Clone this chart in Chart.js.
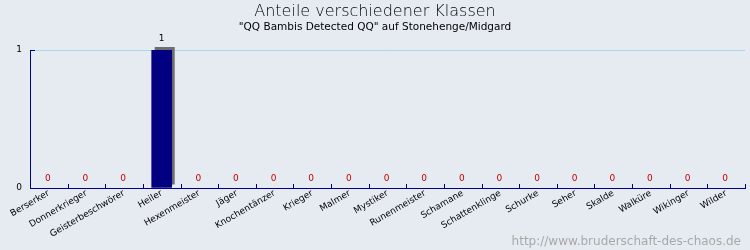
<!DOCTYPE html>
<html>
<head>
<meta charset="utf-8">
<script src="https://cdn.jsdelivr.net/npm/chart.js@4"></script>
<style>
  html, body { margin: 0; padding: 0; background: #e6ebf2; }
  #wrap { width: 750px; height: 250px; }
</style>
</head>
<body>
<div id="wrap"><canvas id="klassenChart" width="750" height="250"></canvas></div>
<script>
// Daten
const klassen = ["Berserker", "Donnerkrieger", "Geisterbeschwörer", "Heiler", "Hexenmeister", "Jäger",
  "Knochentänzer", "Krieger", "Malmer", "Mystiker", "Runenmeister", "Schamane", "Schattenklinge",
  "Schurke", "Seher", "Skalde", "Walküre", "Wikinger", "Wilder"];
const anzahl = [0, 0, 0, 1, 0, 0, 0, 0, 0, 0, 0, 0, 0, 0, 0, 0, 0, 0, 0];
const yTicks = [0, 1];

const titel = "Anteile verschiedener Klassen";
const untertitel = "\"QQ Bambis Detected QQ\" auf Stonehenge/Midgard";
const wasserzeichen = "http://www.bruderschaft-des-chaos.de";

const achsenFarbe = "#00008b";

// eigenes plugin: titel, schatten, werte, ticks, wasserzeichen
const extras = {
  id: "extras",
  beforeDatasetsDraw(chart) {
    const ctx = chart.ctx;
    const meta = chart.getDatasetMeta(0);
    ctx.save();
    ctx.fillStyle = "#6e6e6e";
    meta.data.forEach((bar, i) => {
      if (!anzahl[i]) return;
      const w = bar.width;
      const left = bar.x - w / 2;
      ctx.fillRect(left + 3, bar.y - 3, w, bar.base - bar.y);
    });
    ctx.restore();
  },
  afterDatasetsDraw(chart) {
    const ctx = chart.ctx;
    const area = chart.chartArea;
    const xs = chart.scales.x;
    const meta = chart.getDatasetMeta(0);
    ctx.save();

    // titel
    ctx.textAlign = "center";
    ctx.textBaseline = "alphabetic";
    ctx.fillStyle = "#000";
    ctx.font = "200 16px 'DejaVu Sans'";
    ctx.fillText(titel, 375, 16);
    ctx.font = "10.5px 'DejaVu Sans'";
    ctx.fillText(untertitel, 375, 30);

    // achsen
    ctx.strokeStyle = achsenFarbe;
    ctx.lineWidth = 1;
    ctx.beginPath();
    ctx.moveTo(area.left + 0.5, area.top);
    ctx.lineTo(area.left + 0.5, area.bottom);
    ctx.moveTo(area.left, area.top + 0.5);
    ctx.lineTo(area.left + 5, area.top + 0.5);
    ctx.moveTo(area.left, area.bottom + 0.5);
    ctx.lineTo(area.right + 1, area.bottom + 0.5);
    // x ticks zwischen den kategorien, nach oben
    for (let i = 1; i <= klassen.length; i++) {
      const px = Math.round(xs.getPixelForValue(i - 0.5)) + 0.5;
      ctx.moveTo(px, area.bottom - 4);
      ctx.lineTo(px, area.bottom);
    }
    ctx.stroke();

    // werte
    ctx.font = "9px 'DejaVu Sans'";
    ctx.textAlign = "center";
    meta.data.forEach((bar, i) => {
      if (anzahl[i]) {
        ctx.fillStyle = "#000";
        ctx.fillText(String(anzahl[i]), bar.x, bar.y - 9);
      } else {
        ctx.fillStyle = "#c00000";
        ctx.fillText("0", bar.x - 1, area.bottom - 7);
      }
    });

    // wasserzeichen
    ctx.textAlign = "right";
    ctx.fillStyle = "#a8a8a8";
    ctx.font = "12px 'DejaVu Sans'";
    ctx.fillText(wasserzeichen, 741, 245);
    ctx.restore();
  }
};

const ctx = document.getElementById("klassenChart").getContext("2d");
new Chart(ctx, {
  type: "bar",
  data: {
    labels: klassen,
    datasets: [{
      label: "Anzahl",
      data: anzahl,
      backgroundColor: (c) => c.raw ? "#000080" : "rgba(0,0,0,0)",
      borderWidth: 0,
      barThickness: 20
    }]
  },
  options: {
    responsive: false,
    animation: false,
    devicePixelRatio: 1,
    layout: { padding: { top: 50, right: 5, left: 0, bottom: 0 } },
    plugins: {
      legend: { display: false },
      tooltip: { enabled: false },
      title: { display: false }
    },
    scales: {
      x: {
        offset: true,
        grid: { display: false, drawTicks: false },
        border: { display: false },
        ticks: {
          autoSkip: false,
          maxRotation: 30,
          minRotation: 30,
          padding: 0,
          color: "#000",
          font: { family: "DejaVu Sans", size: 9 }
        },
        afterFit(scale) { scale.height = 62; }
      },
      y: {
        min: 0,
        max: 1,
        afterBuildTicks(scale) { scale.ticks = yTicks.map(v => ({ value: v })); },
        grid: {
          color: (c) => c.tick && c.tick.value === 1 ? "#a6d8e6" : "rgba(0,0,0,0)",
          drawTicks: false
        },
        border: { display: false },
        ticks: {
          padding: 8,
          color: "#000",
          font: { family: "DejaVu Sans", size: 9 }
        },
        afterFit(scale) { scale.width = 30; }
      }
    }
  },
  plugins: [extras]
});
</script>
</body>
</html>
